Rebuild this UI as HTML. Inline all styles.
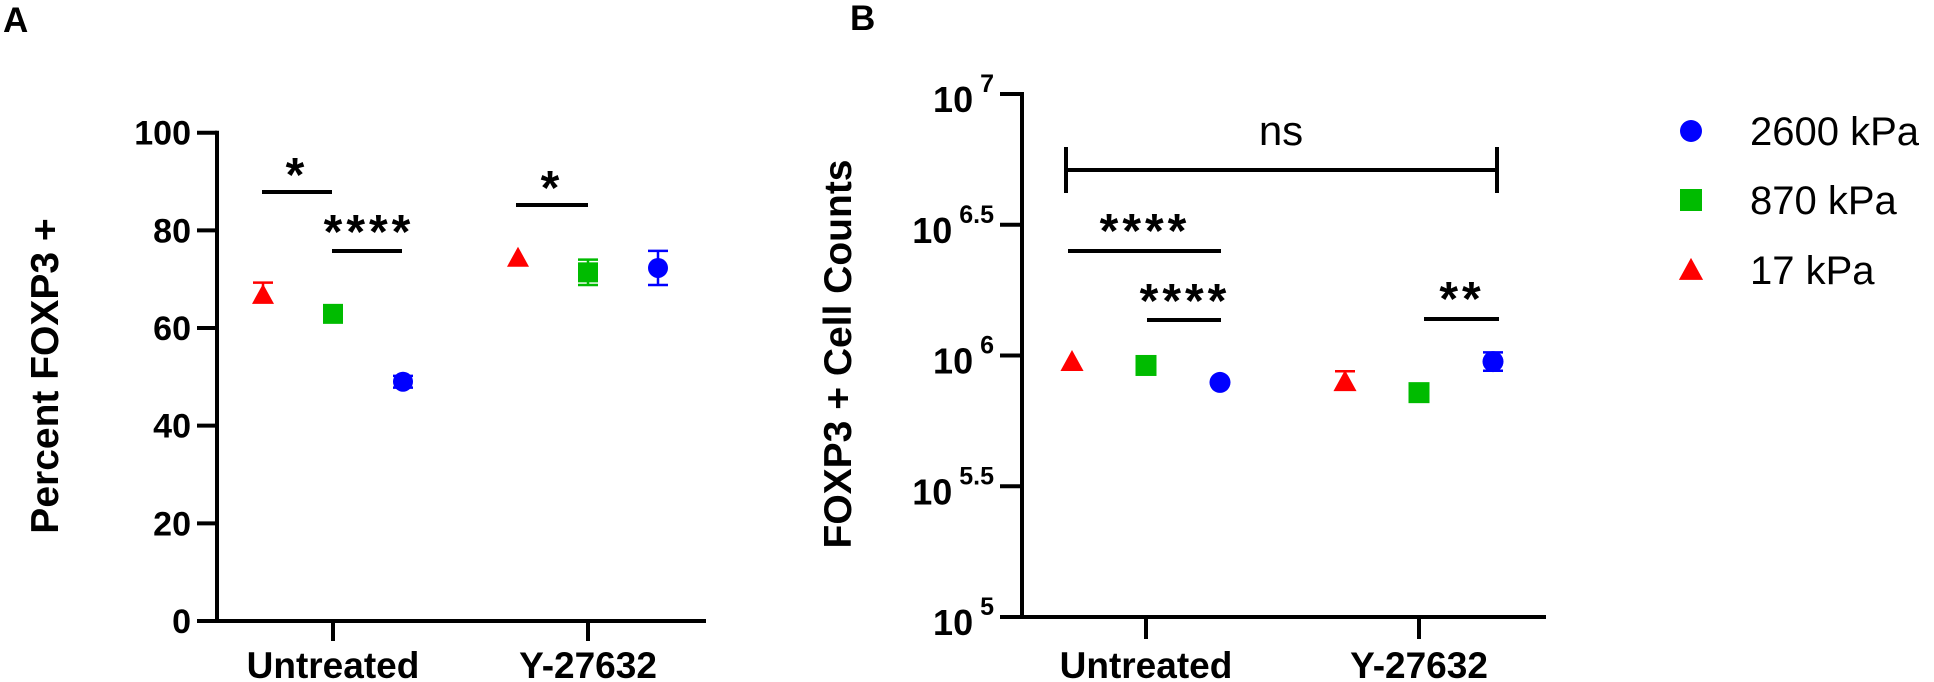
<!DOCTYPE html>
<html><head><meta charset="utf-8"><style>
html,body{margin:0;padding:0;background:#fff;}
svg{display:block;font-family:"Liberation Sans",Arial,sans-serif;}
</style></head><body>
<svg id="chart" width="1934" height="682" viewBox="0 0 1934 682" xmlns="http://www.w3.org/2000/svg">
<g id="A"></g>
<g id="B"></g>
<g id="L"></g>
</svg>
<script>
const groups = ['Untreated', 'Y-27632'];
const seriesNames = ['17 kPa', '870 kPa', '2600 kPa'];
// Panel A: percent FOXP3+
const a17 = [66.8, 74.4];
const a870 = [62.9, 71.4];
const a2600 = [49.0, 72.3];
const a17Err = [2.5, 0.3];
const a870Err = [0.8, 2.6];
const a2600Err = [1.2, 3.5];
const aTicks = [0, 20, 40, 60, 80, 100];
// Panel B: FOXP3+ cell counts (log scale)
const b17 = [948000, 794000];
const b870 = [916000, 721000];
const b2600 = [789000, 948000];
const b17Err = [0.01, 0.04];
const b870Err = [0.01, 0.01];
const b2600Err = [0.012, 0.035];
const bTickExp = ['5', '5.5', '6', '6.5', '7'];

const NS = 'http://www.w3.org/2000/svg';
function mk(parent, tag, attrs, text) {
  const e = document.createElementNS(NS, tag);
  for (const k in attrs) e.setAttribute(k, attrs[k]);
  if (text !== undefined) e.textContent = text;
  parent.appendChild(e);
  return e;
}
const colors = ['#ff0000', '#00bb00', '#0000ff'];
const shapes = ['tri', 'sq', 'circ'];

function marker(g, shape, cx, cy, col, s) {
  let el;
  if (shape === 'tri') el = mk(g, 'polygon', {points: `${cx},${cy - s * 0.55} ${cx - s * 0.55},${cy + s * 0.45} ${cx + s * 0.55},${cy + s * 0.45}`, fill: col});
  else if (shape === 'sq') el = mk(g, 'rect', {x: cx - s / 2, y: cy - s / 2, width: s, height: s, fill: col});
  else el = mk(g, 'circle', {cx: cx, cy: cy, r: s / 2, fill: col});
  return el;
}
function errbar(g, cx, yTop, yBot, col, both) {
  mk(g, 'line', {x1: cx, x2: cx, y1: yTop, y2: both ? yBot : yTop + 8, stroke: col, 'stroke-width': 2.5});
  mk(g, 'line', {x1: cx - 10, x2: cx + 10, y1: yTop, y2: yTop, stroke: col, 'stroke-width': 2.5});
  if (both) mk(g, 'line', {x1: cx - 10, x2: cx + 10, y1: yBot, y2: yBot, stroke: col, 'stroke-width': 2.5});
}
function bracket(g, x1, x2, y, label, tx, ty, fs) {
  mk(g, 'line', {x1: x1, x2: x2, y1: y, y2: y, stroke: '#000', 'stroke-width': 4});
  const t = mk(g, 'text', {x: tx, y: ty, 'text-anchor': 'middle', 'font-size': fs || 48, 'font-weight': 'bold', 'letter-spacing': 4}, label);
  return t;
}

// ---------- Panel A ----------
const A = document.getElementById('A');
const axA = {x0: 217, xEnd: 706, yTop: 132.7, yBot: 621, min: 0, max: 100};
const yA = v => axA.yBot - (v - axA.min) / (axA.max - axA.min) * (axA.yBot - axA.yTop);
const gcA = [333, 588], offA = 70;
const xA = (gi, si) => gcA[gi] + (si - 1) * offA;

const tA = mk(A, 'text', {x: 3, y: 32, 'font-size': 35, 'font-weight': 'bold'}, 'A');


const yaA = mk(A, 'line', {x1: axA.x0, x2: axA.x0, y1: axA.yTop - 2, y2: axA.yBot + 2, stroke: '#000', 'stroke-width': 4});


const xaA = mk(A, 'line', {x1: axA.x0 - 20, x2: axA.xEnd, y1: axA.yBot, y2: axA.yBot, stroke: '#000', 'stroke-width': 4});


aTicks.forEach(v => {
  mk(A, 'line', {x1: axA.x0 - 20, x2: axA.x0, y1: yA(v), y2: yA(v), stroke: '#000', 'stroke-width': 4});
  const t = mk(A, 'text', {x: 191, y: yA(v) + 12, 'text-anchor': 'end', 'font-size': 34, 'font-weight': 'bold'}, String(v));
  
  
});
groups.forEach((g, i) => {
  mk(A, 'line', {x1: gcA[i], x2: gcA[i], y1: axA.yBot, y2: axA.yBot + 20, stroke: '#000', 'stroke-width': 4});
  const t = mk(A, 'text', {x: gcA[i], y: 678, 'text-anchor': 'middle', 'font-size': 37, 'font-weight': 'bold'}, g);
  
  
});
const ytA = mk(A, 'text', {x: 0, y: 0, transform: 'translate(58,376) rotate(-90)', 'text-anchor': 'middle', 'font-size': 39, 'font-weight': 'bold'}, 'Percent FOXP3 +');



const aVals = [a17, a870, a2600], aErrs = [a17Err, a870Err, a2600Err];
aVals.forEach((arr, si) => {
  arr.forEach((v, gi) => {
    const cx = xA(gi, si), cy = yA(v);
    const e = aErrs[si][gi];
    if (e > 1) errbar(A, cx, yA(v + e), yA(v - e), colors[si], si !== 0);
    const m = marker(A, shapes[si], cx, cy, colors[si], 20);
    
    
  });
});
const s1 = bracket(A, 262, 332, 192, '*', 297, 191);


const s2 = bracket(A, 332, 402, 251, '****', 369, 248);


const s3 = bracket(A, 516, 588, 205, '*', 552, 204);



// ---------- Panel B ----------
const B = document.getElementById('B');
const axB = {x0: 1022, xEnd: 1546, yTop: 94, yBot: 617, min: 5, max: 7};
const yB = lv => axB.yBot - (lv - axB.min) / (axB.max - axB.min) * (axB.yBot - axB.yTop);
const gcB = [1146, 1419], offB = 74;
const xB = (gi, si) => gcB[gi] + (si - 1) * offB;

const tB = mk(B, 'text', {x: 850, y: 30, 'font-size': 35, 'font-weight': 'bold'}, 'B');


const yaB = mk(B, 'line', {x1: axB.x0, x2: axB.x0, y1: axB.yTop - 2, y2: axB.yBot + 2, stroke: '#000', 'stroke-width': 4});


const xaB = mk(B, 'line', {x1: axB.x0 - 22, x2: axB.xEnd, y1: axB.yBot, y2: axB.yBot, stroke: '#000', 'stroke-width': 4});


bTickExp.forEach(e => {
  const y = yB(parseFloat(e));
  mk(B, 'line', {x1: axB.x0 - 22, x2: axB.x0, y1: y, y2: y, stroke: '#000', 'stroke-width': 4});
  const t = mk(B, 'text', {x: 994, y: y + 18, 'text-anchor': 'end', 'font-size': 36, 'font-weight': 'bold'});
  
  
  mk(t, 'tspan', {}, '10');
  mk(t, 'tspan', {dx: 7, dy: -20, 'font-size': 25}, e);
});
groups.forEach((g, i) => {
  mk(B, 'line', {x1: gcB[i], x2: gcB[i], y1: axB.yBot, y2: axB.yBot + 22, stroke: '#000', 'stroke-width': 4});
  const t = mk(B, 'text', {x: gcB[i], y: 678, 'text-anchor': 'middle', 'font-size': 37, 'font-weight': 'bold'}, g);
  
  
});
const ytB = mk(B, 'text', {x: 0, y: 0, transform: 'translate(851,354) rotate(-90)', 'text-anchor': 'middle', 'font-size': 39, 'font-weight': 'bold'}, 'FOXP3 + Cell Counts');



const bVals = [b17, b870, b2600], bErrs = [b17Err, b870Err, b2600Err];
bVals.forEach((arr, si) => {
  arr.forEach((v, gi) => {
    const lv = Math.log10(v);
    const cx = xB(gi, si), cy = yB(lv);
    const e = bErrs[si][gi];
    if (e > 0.015) errbar(B, cx, yB(lv + e), yB(lv - e), colors[si], si !== 0);
    const m = marker(B, shapes[si], cx, cy, colors[si], 21);
    
    
  });
});
// ns bracket
mk(B, 'line', {x1: 1066, x2: 1497, y1: 170, y2: 170, stroke: '#000', 'stroke-width': 4});
mk(B, 'line', {x1: 1066, x2: 1066, y1: 147, y2: 193, stroke: '#000', 'stroke-width': 4});
mk(B, 'line', {x1: 1497, x2: 1497, y1: 147, y2: 193, stroke: '#000', 'stroke-width': 4});
const ns = mk(B, 'text', {x: 1281, y: 145, 'text-anchor': 'middle', 'font-size': 42}, 'ns');


const s4 = bracket(B, 1068, 1221, 251, '****', 1145, 247);


const s5 = bracket(B, 1147, 1221, 320, '****', 1185, 317);


const s6 = bracket(B, 1424, 1499, 319, '**', 1462, 315);



// ---------- Legend ----------
const L = document.getElementById('L');
const legOrder = [2, 1, 0];
const legY = [131, 200, 270];
legOrder.forEach((si, k) => {
  const m = marker(L, shapes[si], 1691, legY[k], colors[si], 22);
  
  
  const t = mk(L, 'text', {x: 1750, y: legY[k] + 14, 'font-size': 40}, seriesNames[si]);
  
  
});
</script>
</body></html>
